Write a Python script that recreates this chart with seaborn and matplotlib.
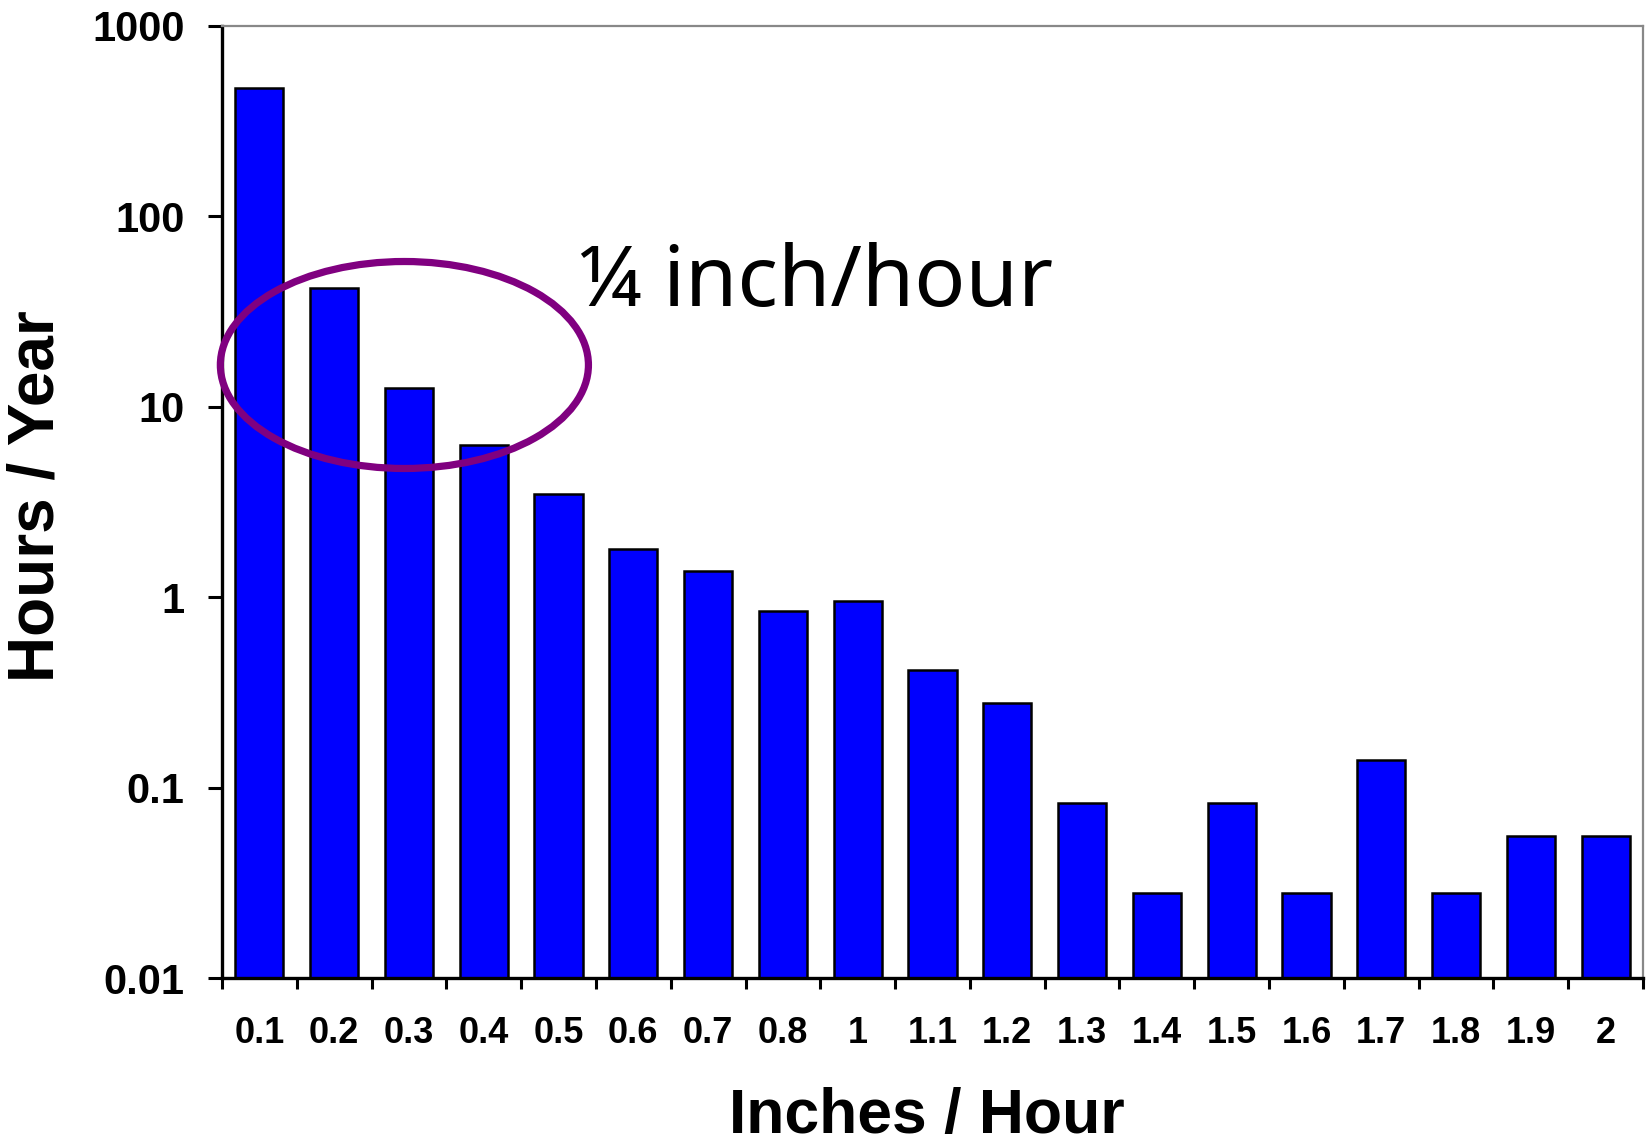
import numpy as np
import pandas as pd
import matplotlib
matplotlib.use("Agg")
import matplotlib.pyplot as plt
import seaborn as sns
from matplotlib.patches import Ellipse
from matplotlib.ticker import FixedLocator, NullLocator

# ---------------------------------------------------
# data
# ---------------------------------------------------
rate_labels = ["0.1", "0.2", "0.3", "0.4", "0.5", "0.6", "0.7", "0.8", "1",
               "1.1", "1.2", "1.3", "1.4", "1.5", "1.6", "1.7", "1.8", "1.9", "2"]
hours_per_year = [471, 42, 12.6, 6.3, 3.5, 1.8, 1.37, 0.85, 0.96,
                  0.417, 0.278, 0.0833, 0.0278, 0.0833, 0.0278, 0.139, 0.0278, 0.0556, 0.0556]

y_ticks = [0.01, 0.1, 1, 10, 100, 1000]
y_tick_labels = ["0.01", "0.1", "1", "10", "100", "1000"]

note_text = "\u00bc inch/hour"

# ---------------------------------------------------
# plot
# ---------------------------------------------------
sns.set_style("white")
plt.rcParams["font.family"] = ["Liberation Sans", "DejaVu Sans"]
# seaborn greys the text, the reference is plain black
for key in ["text.color", "axes.labelcolor", "xtick.color", "ytick.color"]:
    plt.rcParams[key] = "black"

df = pd.DataFrame({"rate": rate_labels, "hours": hours_per_year})

fig = plt.figure(figsize=(16.5, 11.44), dpi=100)
ax = fig.add_axes([0.1345, 0.1451, 0.8613, 0.8322])
ax.set_yscale("log")

sns.barplot(data=df, x="rate", y="hours", ax=ax, color="#0000ff",
            saturation=1, width=0.645, edgecolor="black", linewidth=1.8)

ax.set_ylim(0.01, 1000)
ax.set_xlim(-0.5, len(rate_labels) - 0.5)

# y axis: decades only
ax.yaxis.set_major_locator(FixedLocator(y_ticks))
ax.set_yticklabels(y_tick_labels)
ax.yaxis.set_minor_locator(NullLocator())
ax.tick_params(axis="y", which="major", direction="out", length=10, width=2.2,
               pad=17, labelsize=30, left=True, color="black")
for lbl in ax.get_yticklabels():
    lbl.set_fontweight("bold")

# x axis: labels under bars, tick marks on the category boundaries
ax.xaxis.set_minor_locator(FixedLocator(np.arange(-0.5, len(rate_labels), 1.0)))
ax.tick_params(axis="x", which="major", length=0, pad=27, labelsize=26)
ax.tick_params(axis="x", which="minor", direction="out", length=8, width=2.2,
               bottom=True, color="black")
for lbl in ax.get_xticklabels():
    lbl.set_fontweight("bold")

ax.set_xlabel("")
ax.set_ylabel("")
fig.text(0.022, 0.566, "Hours / Year", rotation=90, ha="center", va="center",
         fontsize=46, fontweight="bold")
fig.text(0.562, 0.024, "Inches / Hour", ha="center", va="center",
         fontsize=45, fontweight="bold")

for side in ["left", "bottom"]:
    ax.spines[side].set_color("black")
    ax.spines[side].set_linewidth(2.4)
for side in ["top", "right"]:
    ax.spines[side].set_visible(True)
    ax.spines[side].set_color("#888888")
    ax.spines[side].set_linewidth(1.6)

# annotation ellipse and text
ax.add_patch(Ellipse((0.1284, 0.6439), 0.259, 0.2174, transform=ax.transAxes,
                     fill=False, edgecolor="#800080", linewidth=5.2,
                     clip_on=False, zorder=5))
ax.text(0.2505, 0.7059, note_text, transform=ax.transAxes, ha="left",
        va="baseline", fontsize=61, family=["Noto Sans", "DejaVu Sans"],
        color="black", zorder=6)

fig.savefig("out.png", dpi=100)
